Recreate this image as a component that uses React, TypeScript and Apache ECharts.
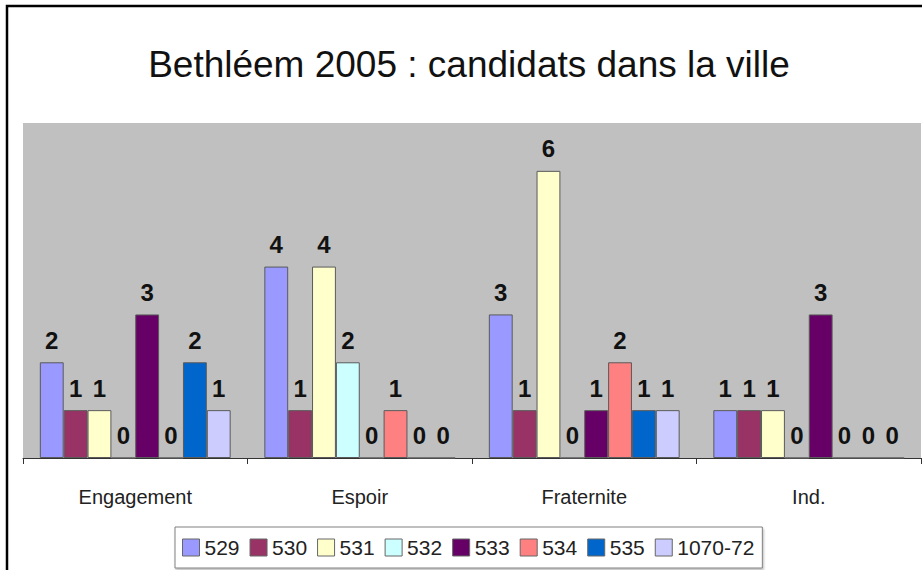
import React, { useEffect, useRef } from "react";
import * as echarts from "echarts";

const TITLE = "Bethléem 2005 : candidats dans la ville";
const categories = ["Engagement", "Espoir", "Fraternite", "Ind."];
const seriesNames = ["529", "530", "531", "532", "533", "534", "535", "1070-72"];
const colors = ["#9999FF", "#993366", "#FFFFCC", "#CCFFFF", "#660066", "#FF8080", "#0066CC", "#CCCCFF"];
const s529 = [2, 4, 3, 1];
const s530 = [1, 1, 1, 1];
const s531 = [1, 4, 6, 1];
const s532 = [0, 2, 0, 0];
const s533 = [3, 0, 1, 3];
const s534 = [0, 1, 2, 0];
const s535 = [2, 0, 1, 0];
const s1070 = [1, 0, 1, 0];
const seriesData = [s529, s530, s531, s532, s533, s534, s535, s1070];

const FONT = "'Liberation Sans', Arial, sans-serif";

export default function App() {
  const ref = useRef<HTMLDivElement>(null);
  useEffect(() => {
    if (!ref.current) return;
    const chart = echarts.init(ref.current, undefined, { renderer: "svg" });
    chart.setOption({
      animation: false,
      backgroundColor: "#ffffff",
      textStyle: { fontFamily: FONT },
      graphic: [
        {
          type: "rect",
          shape: { x: 7, y: 6, width: 940, height: 600 },
          style: { fill: "none", stroke: "#000", lineWidth: 2.5 },
          z: 100,
        },
        {
          type: "text",
          x: 469,
          y: 64,
          style: {
            text: TITLE,
            fontSize: 37,
            fontFamily: FONT,
            fill: "#111",
            align: "center",
            verticalAlign: "middle",
          },
        },
      ],
      grid: {
        left: 23,
        right: 1,
        top: 123,
        bottom: 112,
        show: true,
        backgroundColor: "#C0C0C0",
        borderWidth: 0,
      },
      legend: {
        data: seriesNames,
        left: 175,
        top: 527,
        orient: "horizontal",
        itemWidth: 17,
        itemHeight: 17,
        itemGap: 10,
        padding: [10, 8, 10, 7],
        borderColor: "#808080",
        borderWidth: 1,
        backgroundColor: "#fff",
        shadowColor: "rgba(0,0,0,0.25)",
        shadowBlur: 2,
        shadowOffsetX: 1,
        shadowOffsetY: 2,
        icon: "rect",
        itemStyle: { borderColor: "#666", borderWidth: 1 },
        textStyle: { fontSize: 21, color: "#222", fontFamily: FONT },
      },
      xAxis: {
        type: "category",
        data: categories,
        axisLine: { show: true, lineStyle: { color: "#333", width: 1 } },
        axisTick: { show: true, length: 6, lineStyle: { color: "#333" } },
        axisLabel: { fontSize: 20, color: "#222", margin: 29, fontFamily: FONT },
      },
      yAxis: {
        type: "value",
        min: 0,
        max: 7,
        show: false,
        splitLine: { show: false },
      },
      series: seriesNames.map((name, i) => ({
        name,
        type: "bar",
        data: seriesData[i],
        barGap: "0%",
        barCategoryGap: "15%",
        itemStyle: { color: colors[i], borderColor: "#5a5a5a", borderWidth: 1 },
        label: {
          show: true,
          position: "top",
          distance: 10,
          fontSize: 24,
          fontWeight: "bold",
          color: "#111",
          fontFamily: FONT,
        },
      })),
    });
    return () => chart.dispose();
  }, []);
  return (
    <div
      ref={ref}
      style={{ position: "absolute", left: 0, top: 0, width: 922, height: 570, background: "#fff" }}
    />
  );
}
